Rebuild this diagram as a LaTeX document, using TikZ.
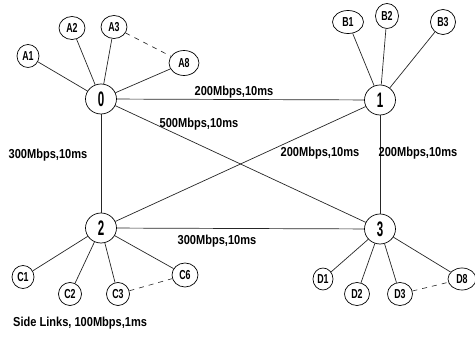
\documentclass[tikz,border=0pt]{standalone}
\usepackage{fontspec}
\setmainfont{Liberation Sans}
\newfontfamily\mainnum[FakeStretch=0.55]{Liberation Sans}
\newfontfamily\subnum[FakeStretch=0.68]{Liberation Sans}
\newfontfamily\linkfont[FakeStretch=0.85]{Liberation Sans}
\usetikzlibrary{shapes.geometric}
\begin{document}
\begin{tikzpicture}[x=1pt,y=-1pt,
  mainnode/.style={ellipse,draw=black,line width=0.7pt,minimum width=31pt,minimum height=30pt,inner sep=0pt,
    font=\mainnum\bfseries\fontsize{21}{21}\selectfont},
  subnode/.style={ellipse,draw=black,line width=0.7pt,minimum width=23pt,minimum height=23pt,inner sep=0pt,
    font=\subnum\bfseries\fontsize{13}{13}\selectfont},
  link/.style={draw=black!85,line width=0.7pt},
  sidelink/.style={draw=black!85,line width=0.6pt,dash pattern=on 5pt off 5pt},
  lbl/.style={font=\linkfont\bfseries\fontsize{13}{13}\selectfont,inner sep=0pt}]
\useasboundingbox (0,0) rectangle (475,339);
% main nodes
\node[mainnode] (n0) at (101,99) {0};
\node[mainnode] (n1) at (380,100) {1};
\node[mainnode] (n2) at (101,228) {2};
\node[mainnode] (n3) at (380,229) {3};
% side nodes
\node[subnode,minimum width=22pt] (a1) at (28,56) {A1};
\node[subnode,minimum width=26pt] (a2) at (72,28) {A2};
\node[subnode,minimum width=26pt] (a3) at (114,27) {A3};
\node[subnode,minimum width=30pt,minimum height=25pt] (a8) at (184,63) {A8};
\node[subnode,minimum width=31pt] (b1) at (348,22) {B1};
\node[subnode,minimum height=25pt] (b2) at (387,16) {B2};
\node[subnode,minimum width=25pt,minimum height=25pt] (b3) at (443,22) {B3};
\node[subnode,minimum width=22pt] (c1) at (23,277) {C1};
\node[subnode] (c2) at (70,294) {C2};
\node[subnode] (c3) at (118,294) {C3};
\node[subnode,minimum width=26pt,minimum height=24pt] (c6) at (185,275) {C6};
\node[subnode,minimum width=20pt,minimum height=22pt] (d1) at (323,279) {D1};
\node[subnode,minimum width=25pt] (d2) at (357,294) {D2};
\node[subnode,minimum width=25pt] (d3) at (400,294) {D3};
\node[subnode,minimum width=28pt,minimum height=22pt] (d8) at (462,279) {D8};
% backbone links
\draw[link] (n0) -- (n1);
\draw[link] (n0) -- (n2);
\draw[link] (n1) -- (n3);
\draw[link] (n2) -- (n3);
\draw[link] (n0) -- (n3);
\draw[link] (n1) -- (n2);
% side links
\foreach \s in {a1,a2,a3,a8} \draw[link] (\s) -- (n0);
\foreach \s in {b1,b2,b3} \draw[link] (\s) -- (n1);
\foreach \s in {c1,c2,c3,c6} \draw[link] (\s) -- (n2);
\foreach \s in {d1,d2,d3,d8} \draw[link] (\s) -- (n3);
\draw[sidelink] (a3) -- (a8);
\draw[sidelink] (c3) -- (c6);
\draw[sidelink] (d3) -- (d8);
% labels
\node[lbl] (l01) at (234,92) {200Mbps,10ms};
\node[lbl] (l03) at (199,124) {500Mbps,10ms};
\node[lbl] (l02) at (48,155) {300Mbps,10ms};
\node[lbl] (l12) at (320,153) {200Mbps,10ms};
\node[lbl] (l13) at (418,153) {200Mbps,10ms};
\node[lbl] (l23) at (217,241) {300Mbps,10ms};
\node[lbl,anchor=west] (side) at (13,323) {Side Links, 100Mbps,1ms};
\end{tikzpicture}
\end{document}
